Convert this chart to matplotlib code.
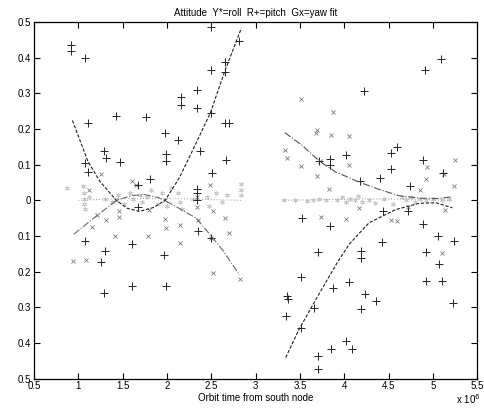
import matplotlib
matplotlib.use("Agg")
import matplotlib.pyplot as plt

plt.rcParams["font.family"] = ["Liberation Sans", "DejaVu Sans"]
plt.rcParams["font.size"] = 7

# pitch samples (+)
pitch_x = [0.924, 0.924, 1.08, 1.105, 1.425, 1.764, 2.16, 2.16, 2.34, 2.34,
           2.50, 2.50, 2.50, 2.66, 2.65, 2.81, 2.66, 2.70, 1.98, 2.12,
           2.37, 2.67, 1.29, 1.31, 1.47, 1.99, 1.99, 1.08, 1.105, 1.81,
           1.67, 2.51, 2.335, 2.335, 2.335, 1.67, 2.35, 2.50, 1.08, 1.30,
           1.26, 1.61, 1.97, 1.61, 1.99, 1.29,
           3.52, 3.84, 3.70, 3.51, 3.87, 3.36, 3.37, 3.66, 3.34, 3.51,
           3.70, 3.85, 3.70, 4.02, 4.09, 4.44, 4.72, 4.89, 4.43, 4.19,
           4.19, 5.06, 4.92, 5.24, 5.07, 4.05, 4.23, 4.36, 4.19, 4.92,
           5.10, 5.23,
           5.09, 4.91, 4.22, 4.53, 4.60, 4.02, 3.84, 3.84, 3.72, 4.89,
           4.53, 4.40, 4.18, 4.74, 5.11]
pitch_y = [0.436, 0.42, 0.40, 0.217, 0.237, 0.235, 0.29, 0.268, 0.31, 0.259,
           0.487, 0.366, 0.245, 0.389, 0.36, 0.447, 0.217, 0.217, 0.189, 0.168,
           0.139, 0.114, 0.137, 0.12, 0.107, 0.13, 0.11, 0.104, 0.08, 0.059,
           0.042, 0.077, 0.032, 0.02, 0.002, -0.02, -0.087, -0.105, -0.113, -0.143,
           -0.174, -0.122, -0.152, -0.239, -0.241, -0.26,
           -0.049, -0.073, -0.146, -0.215, -0.245, -0.267, -0.277, -0.301, -0.323, -0.357,
           -0.437, -0.418, -0.472, -0.395, -0.418, -0.029, -0.029, -0.067, -0.118, -0.143,
           -0.161, -0.099, -0.145, -0.115, -0.178, -0.23, -0.264, -0.283, -0.304, -0.227,
           -0.227, -0.289,
           0.397, 0.366, 0.307, 0.134, 0.15, 0.128, 0.116, 0.098, 0.109, 0.114,
           0.088, 0.063, 0.053, 0.039, 0.077]

# yaw samples (x)
yaw_x = [1.256, 1.61, 1.65, 1.12, 1.43, 1.80, 1.98, 1.46, 1.46, 1.98,
         1.99, 1.31, 1.16, 1.087, 2.35, 2.50, 2.66, 2.15, 2.52, 2.82,
         0.94, 1.21, 1.41, 1.79, 2.15, 2.70, 2.52, 2.49, 2.335, 2.335,
         3.51, 3.87, 3.69, 3.85, 4.05, 3.68, 3.33, 3.36, 3.51, 3.73,
         3.69, 3.83, 4.05, 4.93, 4.92, 5.25, 5.24, 4.86, 3.74, 4.02,
         4.17, 4.53, 4.60, 5.14, 5.10, 5.13, 4.72]
yaw_y = [0.074, 0.053, 0.044, 0.03, 0.0, -0.026, 0.0, -0.03, -0.047, -0.052,
         -0.079, -0.054, -0.076, -0.166, -0.054, -0.105, -0.05, -0.12, -0.203, -0.222,
         -0.17, -0.04, -0.10, -0.10, -0.068, -0.091, -0.03, 0.044, 0.008, -0.02,
         0.284, 0.249, 0.198, 0.182, 0.179, 0.189, 0.142, 0.119, 0.095, 0.111,
         0.067, 0.033, 0.1, 0.093, 0.061, 0.112, 0.04, 0.03, -0.047, -0.052,
         -0.021, -0.054, -0.057, -0.028, -0.148, 0.074, -0.02]

# roll samples (*)
roll_x = [0.87, 1.05, 1.07, 1.07, 1.07, 1.08, 1.12, 1.30, 1.38, 1.45,
          1.52, 1.58, 1.62, 1.70, 1.72, 1.78, 1.82, 1.90, 1.95, 2.00,
          2.05, 2.12, 2.15, 2.17, 2.30, 2.45, 2.48, 2.55, 2.62, 2.68,
          2.84, 2.84, 2.84,
          3.32, 3.45, 3.58, 3.65, 3.72, 3.80, 3.92, 3.97, 4.02, 4.07,
          4.12, 4.15, 4.20, 4.28, 4.35, 4.45, 4.55, 4.65, 4.70, 4.75,
          4.80, 4.85, 4.92, 5.00, 5.10, 5.18]
roll_y = [0.035, 0.04, 0.02, 0.005, -0.01, -0.025, 0.01, 0.005, -0.005, 0.015,
          -0.01, 0.02, 0.005, 0.015, -0.005, 0.01, 0.03, -0.01, 0.02, -0.015,
          0.035, 0.02, -0.005, -0.025, 0.005, 0.01, -0.015, 0.02, -0.005, 0.015,
          0.045, 0.03, 0.015,
          0.0, 0.002, -0.002, 0.0, 0.005, 0.0, 0.0, 0.01, -0.005, 0.005,
          0.0, 0.012, -0.005, 0.002, -0.008, 0.005, -0.01, 0.01, 0.0, 0.008,
          -0.005, 0.005, 0.0, 0.005, 0.0, 0.005]

# fitted curves (two orbit segments each)
pitch_fit1_x = [0.935, 1.11, 1.245, 1.43, 1.55, 1.69, 1.85, 1.98, 2.14, 2.29, 2.49, 2.65, 2.84]
pitch_fit1_y = [0.224, 0.109, 0.053, 0.0, -0.022, -0.031, -0.02, 0.0, 0.063, 0.14, 0.245, 0.36, 0.483]
pitch_fit2_x = [3.34, 3.49, 3.68, 3.93, 4.06, 4.28, 4.58, 4.85, 5.04, 5.22]
pitch_fit2_y = [-0.441, -0.362, -0.278, -0.171, -0.122, -0.063, -0.026, -0.008, -0.007, -0.021]

yaw_fit1_x = [0.95, 1.15, 1.43, 1.6, 1.75, 1.9, 2.05, 2.33, 2.5, 2.63, 2.82]
yaw_fit1_y = [-0.095, -0.055, 0.0, 0.013, 0.016, 0.008, -0.01, -0.05, -0.1, -0.14, -0.21]
yaw_fit2_x = [3.33, 3.53, 3.72, 3.9, 4.17, 4.4, 4.62, 4.85, 5.05, 5.22]
yaw_fit2_y = [0.19, 0.153, 0.11, 0.08, 0.051, 0.03, 0.013, 0.006, 0.005, 0.01]

roll_fit1_x = [1.0, 1.5, 2.0, 2.5, 2.85]
roll_fit1_y = [0.0, 0.005, 0.005, 0.002, 0.0]
roll_fit2_x = [3.3, 3.8, 4.3, 4.8, 5.22]
roll_fit2_y = [0.0, 0.002, 0.004, 0.003, 0.0]

fig = plt.figure(figsize=(4.84, 4.08), dpi=100)
ax = fig.add_axes([0.070, 0.072, 0.916, 0.874])

ax.plot(roll_x, roll_y, linestyle="none", marker=(6, 2, 0), markersize=3.5,
        color="#cccccc", markeredgewidth=0.5)
ax.plot(yaw_x, yaw_y, linestyle="none", marker="x", markersize=3.2,
        color="#7a7a7a", markeredgewidth=0.6)
ax.plot(pitch_x, pitch_y, linestyle="none", marker="+", markersize=5.5,
        color="#262626", markeredgewidth=0.7)

ax.plot(pitch_fit1_x, pitch_fit1_y, "--", color="#222222", lw=0.8, dashes=(3, 1.5))
ax.plot(pitch_fit2_x, pitch_fit2_y, "--", color="#222222", lw=0.8, dashes=(3, 1.5))
ax.plot(yaw_fit1_x, yaw_fit1_y, "-.", color="#6a6a6a", lw=0.8)
ax.plot(yaw_fit2_x, yaw_fit2_y, "-.", color="#555555", lw=0.8)
ax.plot(roll_fit1_x, roll_fit1_y, ":", color="#aaaaaa", lw=0.8)
ax.plot(roll_fit2_x, roll_fit2_y, ":", color="#aaaaaa", lw=0.8)

ax.set_xlim(0.5, 5.5)
ax.set_ylim(-0.5, 0.5)

xticks = [0.5, 1, 1.5, 2, 2.5, 3, 3.5, 4, 4.5, 5, 5.5]
xtick_labels = ["0.5", "1", "1.5", "2", "2.5", "3", "3.5", "4", "4.5", "5", "5.5"]
yticks = [-0.5, -0.4, -0.3, -0.2, -0.1, 0, 0.1, 0.2, 0.3, 0.4, 0.5]
ytick_labels = ["0.5", "0.4", "0.3", "0.2", "0.1", "0", "0.1", "0.2", "0.3", "0.4", "0.5"]
ax.set_xticks(xticks)
ax.set_xticklabels(xtick_labels)
ax.set_yticks(yticks)
ax.set_yticklabels(ytick_labels)
ax.tick_params(direction="in", length=4, width=0.8, top=True, right=True,
               pad=2, labelsize=7)
for s in ax.spines.values():
    s.set_linewidth(0.9)

ax.set_title("Attitude  Y*=roll  R+=pitch  Gx=yaw fit", fontsize=7, pad=4)
ax.set_xlabel("Orbit time from south node", fontsize=7, labelpad=1)
fig.text(0.993, 0.004, r"x 10$^6$", fontsize=7, ha="right", va="bottom")

fig.savefig("out.png", dpi=100)
